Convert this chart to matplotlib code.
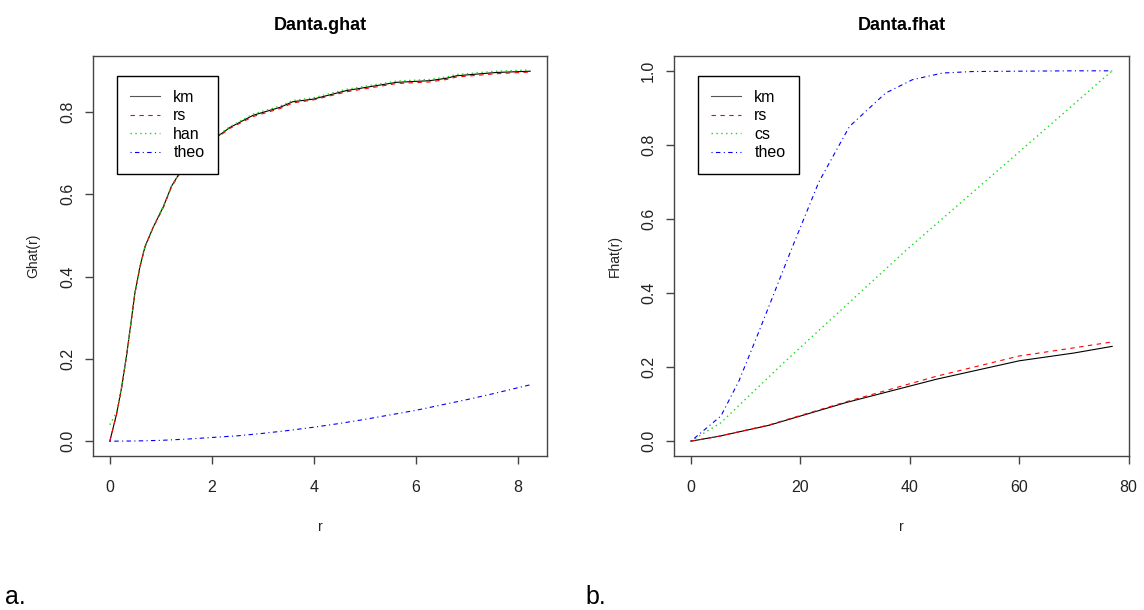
import matplotlib
matplotlib.use("Agg")
from matplotlib import pyplot as plt

plt.rcParams['font.family'] = ['Liberation Sans', 'DejaVu Sans']

# Danta.ghat
r_g = [0, 0.13, 0.23, 0.33, 0.42, 0.49, 0.59, 0.69, 0.85, 1.05, 1.21, 1.41,
       1.63, 1.9, 2.03, 2.35, 2.81, 3.33, 3.59, 3.98, 4.64, 5.62, 6.27, 6.6,
       6.8, 7.58, 8.24]
ghat_km = [0, 0.065, 0.13, 0.21, 0.293, 0.359, 0.424, 0.473, 0.52, 0.57, 0.62,
           0.66, 0.70, 0.725, 0.733, 0.762, 0.792, 0.811, 0.825, 0.831, 0.852,
           0.872, 0.876, 0.882, 0.888, 0.896, 0.899]
ghat_rs = [0, 0.064, 0.129, 0.209, 0.292, 0.358, 0.423, 0.472, 0.519, 0.568,
           0.618, 0.658, 0.698, 0.723, 0.731, 0.760, 0.789, 0.808, 0.822, 0.829,
           0.849, 0.869, 0.873, 0.879, 0.885, 0.893, 0.897]
ghat_han = [0.04, 0.07, 0.132, 0.211, 0.294, 0.360, 0.425, 0.474, 0.521, 0.571,
            0.621, 0.661, 0.701, 0.727, 0.735, 0.764, 0.795, 0.814, 0.828, 0.834,
            0.855, 0.875, 0.879, 0.885, 0.891, 0.899, 0.902]
r_gtheo = [0, 0.5, 1, 1.5, 2, 2.5, 3, 3.5, 4, 4.5, 5, 5.5, 6, 6.5, 7, 7.5, 8.24]
ghat_theo = [0, 0.0005, 0.002, 0.005, 0.009, 0.013, 0.019, 0.026, 0.034, 0.043,
             0.053, 0.064, 0.075, 0.088, 0.101, 0.115, 0.137]

# Danta.fhat
r_f = [0, 5.2, 14.3, 28.3, 44.8, 60, 70, 77]
fhat_km = [0, 0.0135, 0.043, 0.104, 0.167, 0.217, 0.238, 0.256]
fhat_rs = [0, 0.0135, 0.044, 0.106, 0.175, 0.230, 0.252, 0.268]
r_fcs = [0, 5.5, 16.7, 39.3, 60, 77]
fhat_cs = [0, 0.05, 0.208, 0.515, 0.781, 1.0]
r_ftheo = [0, 5.5, 8.8, 12.5, 18.3, 23.4, 29, 35.6, 40.5, 46, 51.4, 60, 70, 77]
fhat_theo = [0, 0.068, 0.163, 0.298, 0.515, 0.70, 0.85, 0.94, 0.976, 0.994,
             0.998, 0.999, 1.0, 1.0]

STY = {'km': dict(color='black', ls='-', lw=0.8),
       'rs': dict(color='red', ls=(0, (4, 4)), lw=0.8),
       'est': dict(color='#11dd11', ls=(0, (1, 2.5)), lw=1.0),
       'theo': dict(color='blue', ls=(0, (1, 3, 4, 3)), lw=0.8)}


def style_axes(ax, title, ylabel):
    ax.set_title(title, fontsize=13, fontweight='bold', pad=19)
    ax.set_xlabel('r', fontsize=10, labelpad=18, color='#222222')
    ax.set_ylabel(ylabel, fontsize=10, labelpad=14, color='#222222')
    for s in ax.spines.values():
        s.set_color('#444444')
        s.set_linewidth(1)
    ax.tick_params(direction='out', length=6, width=1, color='#444444',
                   labelsize=11.5, labelcolor='#222222')
    ax.tick_params(axis='x', pad=11)
    ax.tick_params(axis='y', pad=7)
    for lab in ax.get_yticklabels():
        lab.set_rotation(90)
        lab.set_va('center')


def add_legend(ax, labels):
    leg = ax.legend(labels, loc='upper left', bbox_to_anchor=(0.052, 0.95),
                    borderaxespad=0, fancybox=False, framealpha=1,
                    edgecolor='black', fontsize=11.5, handlelength=1.85,
                    handletextpad=0.85, labelspacing=0.22, borderpad=0.85)
    leg.get_frame().set_linewidth(1)
    leg.legend_handles[0].set_color('#555555')


fig = plt.figure(figsize=(11.44, 6.1), dpi=100)
ax_g = fig.add_axes([93 / 1144, 1 - 456 / 610, 454 / 1144, 400 / 610])
ax_f = fig.add_axes([674 / 1144, 1 - 456 / 610, 455 / 1144, 400 / 610])

ax_g.plot(r_g, ghat_km, **STY['km'])
ax_g.plot(r_g, ghat_rs, **STY['rs'])
ax_g.plot(r_g, ghat_han, **STY['est'])
ax_g.plot(r_gtheo, ghat_theo, **STY['theo'])
ax_g.set_xlim(-0.33, 8.57)
ax_g.set_ylim(-0.036, 0.936)
ax_g.set_xticks([0, 2, 4, 6, 8])
ax_g.set_yticks([0.0, 0.2, 0.4, 0.6, 0.8])
ax_g.set_yticklabels(['0.0', '0.2', '0.4', '0.6', '0.8'])
style_axes(ax_g, 'Danta.ghat', 'Ghat(r)')
add_legend(ax_g, ['km', 'rs', 'han', 'theo'])

ax_f.plot(r_f, fhat_km, **STY['km'])
ax_f.plot(r_f, fhat_rs, **STY['rs'])
ax_f.plot(r_fcs, fhat_cs, **STY['est'])
ax_f.plot(r_ftheo, fhat_theo, **STY['theo'])
ax_f.set_xlim(-3.08, 80.08)
ax_f.set_ylim(-0.04, 1.04)
ax_f.set_xticks([0, 20, 40, 60, 80])
ax_f.set_yticks([0.0, 0.2, 0.4, 0.6, 0.8, 1.0])
ax_f.set_yticklabels(['0.0', '0.2', '0.4', '0.6', '0.8', '1.0'])
style_axes(ax_f, 'Danta.fhat', 'Fhat(r)')
add_legend(ax_f, ['km', 'rs', 'cs', 'theo'])

fig.text(5 / 1144, 1 - 597 / 610, 'a.', fontsize=18, va='center', ha='left')
fig.text(585 / 1144, 1 - 597 / 610, 'b.', fontsize=18, va='center', ha='left')

fig.savefig('out.png', dpi=100)
